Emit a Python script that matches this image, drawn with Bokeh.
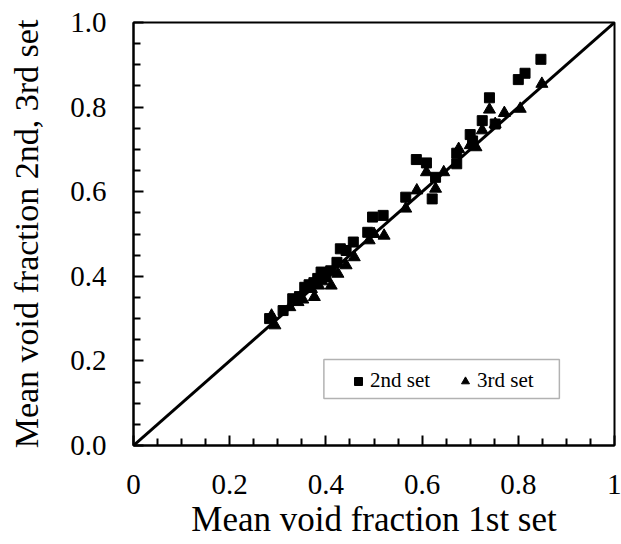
from bokeh.plotting import figure
from bokeh.models import FixedTicker, Legend, LegendItem, BoxAnnotation
from bokeh.embed import file_html
from bokeh.resources import INLINE

# 2nd set (squares): x = mean void fraction 1st set, y = 2nd set
x_2nd = [0.283, 0.311, 0.331, 0.345, 0.356, 0.365, 0.375, 0.383, 0.390, 0.400,
         0.410, 0.423, 0.430, 0.442, 0.457, 0.487, 0.497, 0.519, 0.566, 0.588,
         0.609, 0.621, 0.628, 0.672, 0.672, 0.700, 0.705, 0.725, 0.740, 0.752,
         0.800, 0.814, 0.847]
y_2nd = [0.300, 0.319, 0.347, 0.352, 0.374, 0.380, 0.385, 0.395, 0.410, 0.405,
         0.413, 0.433, 0.465, 0.461, 0.481, 0.504, 0.540, 0.544, 0.587, 0.676,
         0.668, 0.583, 0.634, 0.691, 0.666, 0.735, 0.720, 0.768, 0.822, 0.760,
         0.865, 0.880, 0.913]

# 3rd set (triangles)
x_3rd = [0.287, 0.294, 0.325, 0.342, 0.352, 0.376, 0.370, 0.385, 0.392, 0.411,
         0.400, 0.425, 0.442, 0.459, 0.490, 0.500, 0.521, 0.566, 0.589, 0.609,
         0.628, 0.645, 0.676, 0.700, 0.712, 0.725, 0.740, 0.752, 0.771, 0.804,
         0.849]
y_3rd = [0.307, 0.284, 0.327, 0.339, 0.345, 0.351, 0.370, 0.378, 0.388, 0.378,
         0.395, 0.406, 0.426, 0.445, 0.485, 0.500, 0.496, 0.560, 0.603, 0.646,
         0.607, 0.646, 0.701, 0.710, 0.705, 0.745, 0.794, 0.760, 0.786, 0.796,
         0.855]

# 1:1 line
diag_x = [0, 1]
diag_y = [0, 1]

series_labels = ["2nd set", "3rd set"]
x_ticks = [0, 0.2, 0.4, 0.6, 0.8, 1]
x_tick_labels = ["0", "0.2", "0.4", "0.6", "0.8", "1"]
y_ticks = [0, 0.2, 0.4, 0.6, 0.8, 1]
y_tick_labels = ["0.0", "0.2", "0.4", "0.6", "0.8", "1.0"]
minor_ticks = [0.05, 0.1, 0.15, 0.25, 0.3, 0.35, 0.45, 0.5, 0.55, 0.65, 0.7, 0.75, 0.85, 0.9, 0.95]

FONT = "Liberation Serif"

p = figure(width=621, height=544, x_range=(0, 1), y_range=(0, 1),
           output_backend="svg", toolbar_location=None,
           min_border_left=133, min_border_top=22, min_border_right=7, min_border_bottom=99)
p.background_fill_color = "white"
p.border_fill_color = "white"
p.xgrid.visible = False
p.ygrid.visible = False
p.outline_line_color = "black"
p.outline_line_width = 2
p.outline_line_alpha = 1

p.xaxis.ticker = FixedTicker(ticks=x_ticks, minor_ticks=minor_ticks)
p.yaxis.ticker = FixedTicker(ticks=y_ticks, minor_ticks=minor_ticks)
p.xaxis.major_label_overrides = dict(zip(x_ticks, x_tick_labels))
p.yaxis.major_label_overrides = dict(zip(y_ticks, y_tick_labels))

for ax in (p.xaxis[0], p.yaxis[0]):
    ax.axis_line_width = 2
    ax.axis_line_color = "black"
    ax.major_tick_in = 10
    ax.major_tick_out = 0
    ax.minor_tick_in = 7
    ax.minor_tick_out = 0
    ax.major_tick_line_width = 2
    ax.minor_tick_line_width = 2
    ax.major_tick_line_color = "black"
    ax.minor_tick_line_color = "black"
    ax.major_label_text_font = FONT
    ax.major_label_text_font_size = "29px"
    ax.major_label_text_color = "black"
    ax.axis_label_text_font = FONT
    ax.axis_label_text_font_style = "normal"
    ax.axis_label_text_color = "black"

p.xaxis.axis_label = "Mean void fraction 1st set"
p.yaxis.axis_label = "Mean void fraction 2nd, 3rd set"
p.xaxis.axis_label_text_font_size = "35px"
p.yaxis.axis_label_text_font_size = "34px"
p.xaxis.major_label_standoff = 29
p.yaxis.major_label_standoff = 27
p.xaxis.axis_label_standoff = 3
p.yaxis.axis_label_standoff = 22

p.line(diag_x, diag_y, line_color="black", line_width=3)
r2 = p.scatter(x_2nd, y_2nd, marker="square", size=10, color="black")
r3 = p.scatter(x_3rd, y_3rd, marker="triangle", size=12, color="black")

box = BoxAnnotation(left=0.3958, right=0.8854, bottom=0.111, top=0.2033,
                    fill_color="white", fill_alpha=1, line_color="black", line_width=1.5)
p.add_layout(box)

legend = Legend(items=[LegendItem(label=series_labels[0], renderers=[r2]),
                       LegendItem(label=series_labels[1], renderers=[r3])],
                orientation="horizontal", location=(215, 52),
                border_line_alpha=0, background_fill_alpha=0,
                padding=0, margin=0, glyph_width=20, glyph_height=20,
                label_standoff=2, spacing=25,
                label_text_font=FONT, label_text_font_size="21px",
                label_text_color="black")
p.add_layout(legend)

open("out.html", "w").write(file_html(p, INLINE))
